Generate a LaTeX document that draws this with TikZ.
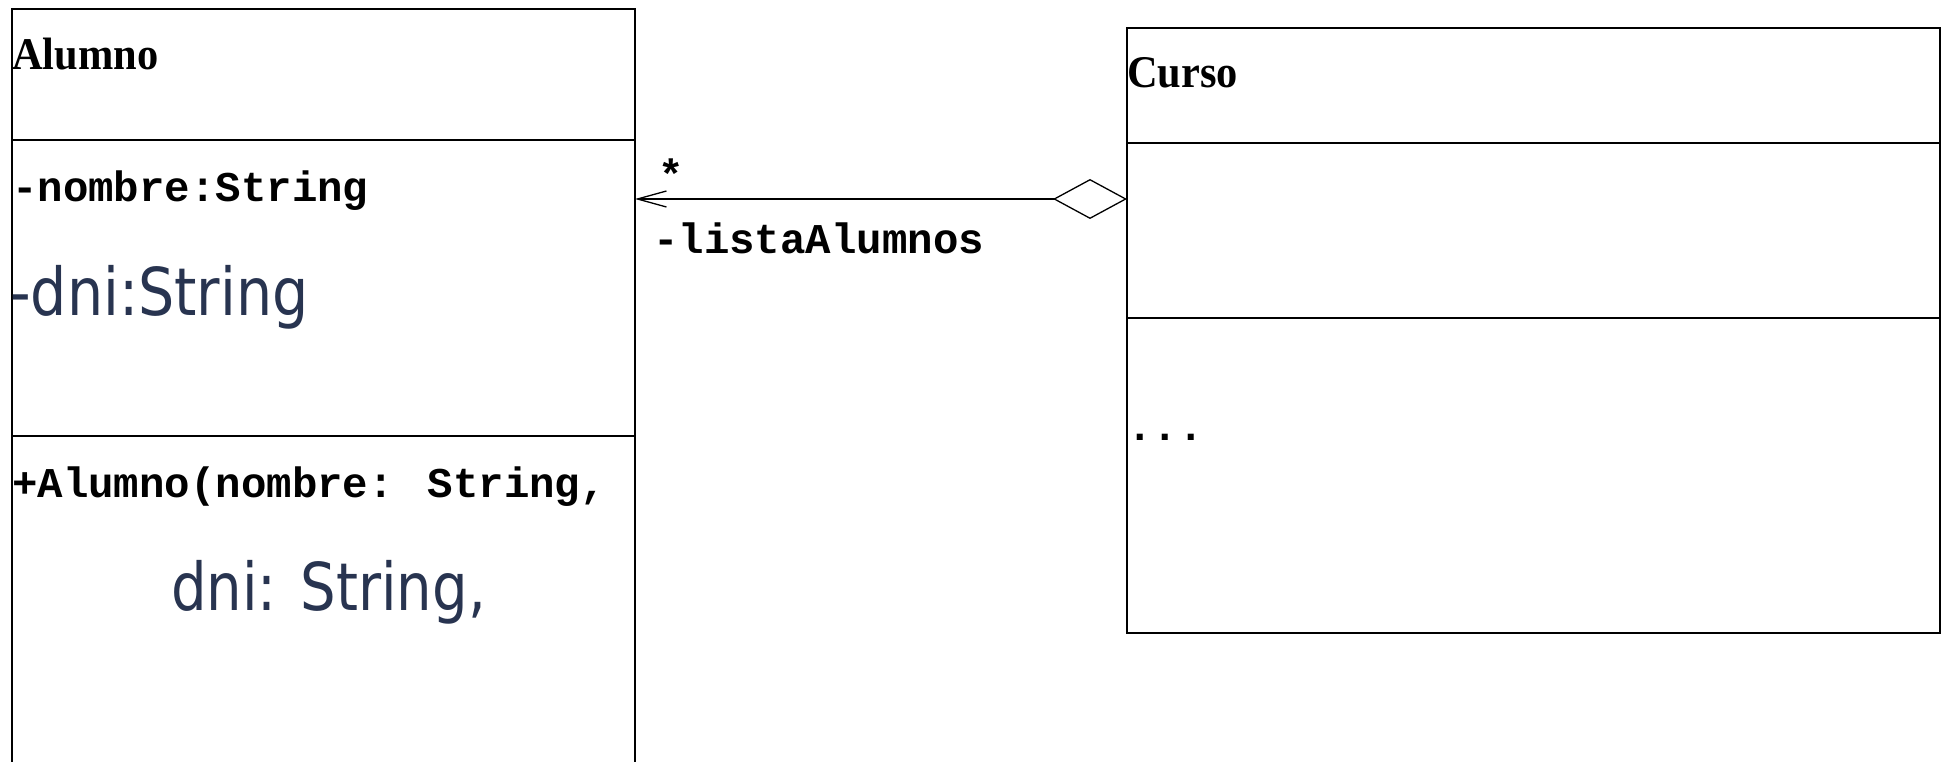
\documentclass[tikz,border=0pt]{standalone}
\usepackage{fontspec}
\usepackage{graphicx}
\usetikzlibrary{arrows.meta}
\newfontfamily\umlserif{Liberation Serif}
\newfontfamily\umlmono{Liberation Mono}
\newfontfamily\umlsans{DejaVu Sans}
\definecolor{slatetext}{RGB}{40,52,80}

\begin{document}
\begin{tikzpicture}[x=1pt,y=-1pt,
  compartment/.style={rectangle, draw=black, line width=2pt, inner sep=0pt, outer sep=0pt, anchor=north west},
  titletext/.style={inner sep=0pt, anchor=base west, font=\umlserif\bfseries\fontsize{42}{48}\selectfont},
  monotext/.style={inner sep=0pt, anchor=base west, font=\umlmono\bfseries\fontsize{42.4}{50}\selectfont},
  sanstext/.style={inner sep=0pt, anchor=base west, text=slatetext, font=\umlsans\fontsize{66}{76}\selectfont},
  aggregation/.style={draw=black, line width=2pt,
    {Diamond[fill=white, length=74pt, width=40pt, line width=1.3pt]}-{Straight Barb[length=29pt, width=16pt, line width=1.3pt]}},
]
\useasboundingbox (0,0) rectangle (1941,762);
\clip (0,0) rectangle (1941,762);

% class Alumno (operations compartment runs past the lower edge)
\node[compartment, minimum width=623pt, minimum height=131pt] (alumnoName) at (12,9) {};
\node[compartment, minimum width=623pt, minimum height=296pt] (alumnoAttrs) at (12,140) {};
\node[compartment, minimum width=623pt, minimum height=400pt] (alumnoOps) at (12,436) {};

\node[titletext] (alumnoTitle) at (12,70) {\scalebox{1.01}[1.08]{Alumno}};
\node[monotext] (nombreAttr) at (12,202) {-nombre:String};
\node[sanstext] (dniAttr) at (10,315) {\scalebox{0.865}[1]{-dni:String}};
\node[monotext] (ctorLine) at (12,497) {+Alumno(nombre: String,};
\node[sanstext] (ctorDni) at (171,610) {\scalebox{0.85}[1]{dni: String,}};

% class Curso
\node[compartment, minimum width=813pt, minimum height=115pt] (cursoName) at (1127,28) {};
\node[compartment, minimum width=813pt, minimum height=175pt] (cursoAttrs) at (1127,143) {};
\node[compartment, minimum width=813pt, minimum height=315pt] (cursoOps) at (1127,318) {};

\node[titletext] (cursoTitle) at (1127,88) {\scalebox{1.01}[1.08]{Curso}};
\node[monotext] (cursoMore) at (1127,440) {...};

% aggregation Curso <>--> Alumno
\path (cursoAttrs.north west) ++(0,56) coordinate (aggEnd);
\draw[aggregation] (aggEnd) -- (aggEnd -| alumnoAttrs.east);
\node[monotext, anchor=base] (multStar) at (671,190) {*};
\node[monotext] (roleName) at (653,253) {-listaAlumnos};
\end{tikzpicture}
\end{document}
